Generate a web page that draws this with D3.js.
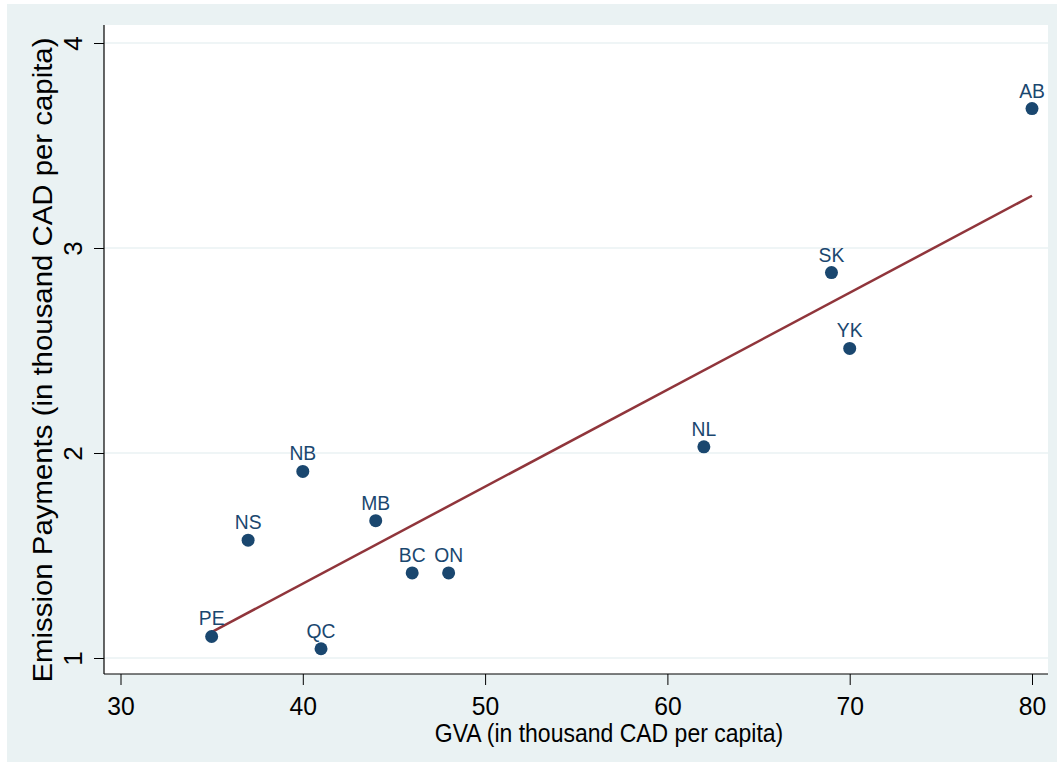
<!DOCTYPE html>
<html>
<head>
<meta charset="utf-8">
<script src="https://cdn.jsdelivr.net/npm/d3@7"></script>
<style>
  html, body { margin: 0; padding: 0; background: #ffffff; }
  svg { display: block; font-family: "Liberation Sans", Arial, sans-serif; }
</style>
</head>
<body>
<svg id="chart" width="1057" height="765"></svg>
<script>
// provinces / territories, GVA and emission payments (thousand CAD per capita)
const provinces = ["AB", "SK", "YK", "NL", "NB", "MB", "NS", "BC", "ON", "PE", "QC"];
const gva       = [80, 69, 70, 62, 40, 44, 37, 46, 48, 35, 41];
const payments  = [3.68, 2.88, 2.51, 2.03, 1.91, 1.67, 1.575, 1.415, 1.415, 1.105, 1.045];

const xTicks = [30, 40, 50, 60, 70, 80];
const yTicks = [1, 2, 3, 4];

const xTitle = "GVA (in thousand CAD per capita)";
const yTitle = "Emission Payments (in thousand CAD per capita)";

const svg = d3.select("#chart");

// graph region (stata light blue) and plot region (white)
svg.append("rect")
  .attr("x", 7).attr("y", 4)
  .attr("width", 1050).attr("height", 758)
  .attr("fill", "#eaf2f3");

const plot = { left: 104, right: 1048, top: 25, bottom: 674 };

svg.append("rect")
  .attr("x", plot.left).attr("y", plot.top)
  .attr("width", plot.right - plot.left).attr("height", plot.bottom - plot.top)
  .attr("fill", "#ffffff");

const x = d3.scaleLinear().domain([30, 80]).range([120.5, 1032]);
const y = d3.scaleLinear().domain([1, 4]).range([658, 43]);

// gridlines
svg.append("g")
  .selectAll("line")
  .data(yTicks)
  .join("line")
  .attr("x1", plot.left).attr("x2", plot.right)
  .attr("y1", d => y(d)).attr("y2", d => y(d))
  .attr("stroke", "#eaf2f3")
  .attr("stroke-width", 1.5);

// x axis
const xAxis = svg.append("g")
  .attr("transform", `translate(0,${plot.bottom})`)
  .call(d3.axisBottom(x).tickValues(xTicks).tickFormat(d3.format("d"))
    .tickSize(11).tickPadding(12).tickSizeOuter(0));
xAxis.select(".domain").remove();
xAxis.append("line")
  .attr("x1", plot.left).attr("x2", plot.right)
  .attr("stroke", "#000").attr("stroke-width", 1.2);
xAxis.selectAll(".tick line").attr("stroke", "#000");
xAxis.selectAll(".tick text")
  .attr("fill", "#000")
  .attr("transform", "scale(0.95,1)")
  .style("font-size", "26px")
  .style("font-family", "Liberation Sans, Arial, sans-serif");

// y axis
const yAxis = svg.append("g")
  .attr("transform", `translate(${plot.left},0)`)
  .call(d3.axisLeft(y).tickValues(yTicks).tickFormat(d3.format("d"))
    .tickSize(10).tickSizeOuter(0));
yAxis.select(".domain").remove();
yAxis.append("line")
  .attr("y1", plot.top).attr("y2", plot.bottom)
  .attr("stroke", "#000").attr("stroke-width", 1.2);
yAxis.selectAll(".tick line").attr("stroke", "#000");
yAxis.selectAll(".tick text")
  .attr("x", null).attr("dy", null)
  .attr("text-anchor", "middle")
  .attr("transform", "translate(-22,0) rotate(-90)")
  .attr("fill", "#000")
  .style("font-size", "26px")
  .style("font-family", "Liberation Sans, Arial, sans-serif");

// axis titles (source image is slightly stretched vertically)
svg.append("text")
  .attr("transform", "translate(609,742) scale(0.92,1)")
  .attr("text-anchor", "middle")
  .style("font-size", "25px")
  .text(xTitle);

svg.append("text")
  .attr("transform", "translate(52,360) rotate(-90) scale(1.05,1)")
  .attr("text-anchor", "middle")
  .style("font-size", "28px")
  .text(yTitle);

// linear fit (OLS) over data range
const points = provinces.map((p, i) => ({ name: p, gva: gva[i], pay: payments[i] }));
const mx = d3.mean(gva), my = d3.mean(payments);
const slope = d3.sum(points, d => (d.gva - mx) * (d.pay - my)) / d3.sum(points, d => (d.gva - mx) ** 2);
const intercept = my - slope * mx;
const [xmin, xmax] = d3.extent(gva);

svg.append("line")
  .attr("x1", x(xmin)).attr("y1", y(intercept + slope * xmin))
  .attr("x2", x(xmax)).attr("y2", y(intercept + slope * xmax))
  .attr("stroke", "#90353b")
  .attr("stroke-width", 2.5);

// points + labels
const g = svg.append("g");
g.selectAll("circle")
  .data(points)
  .join("circle")
  .attr("cx", d => x(d.gva))
  .attr("cy", d => y(d.pay))
  .attr("r", 6.5)
  .attr("fill", "#1a476f");

g.selectAll("text")
  .data(points)
  .join("text")
  .attr("transform", d => `translate(${x(d.gva)},${y(d.pay) - 11}) scale(0.92,1)`)
  .attr("text-anchor", "middle")
  .attr("fill", "#1a476f")
  .style("font-size", "21px")
  .text(d => d.name);
</script>
</body>
</html>
